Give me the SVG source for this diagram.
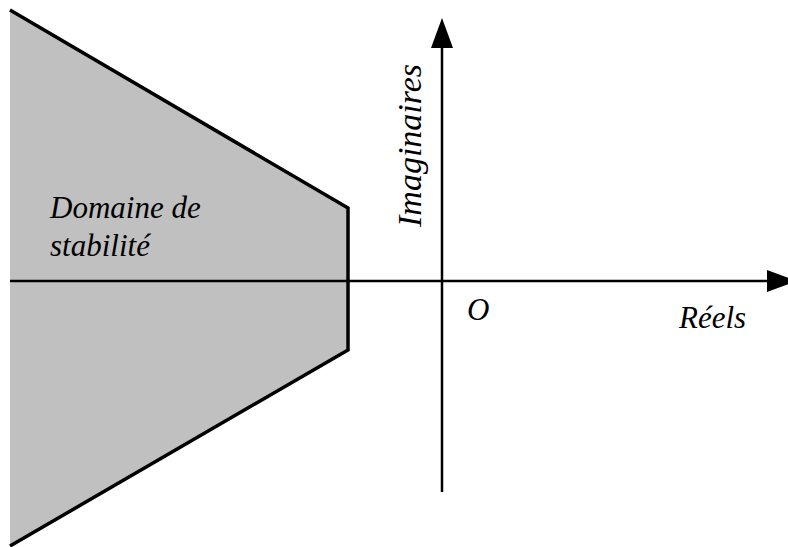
<svg xmlns="http://www.w3.org/2000/svg" width="788" height="547" viewBox="0 0 788 547">
<defs>
<marker id="ah" markerUnits="userSpaceOnUse" markerWidth="30" markerHeight="22" refX="0" refY="11" orient="auto" viewBox="0 0 30 22">
<path d="M0,0 L30,11 L0,22 Z" fill="#000"/>
</marker>
</defs>
<rect width="788" height="547" fill="#fff"/>
<g id="domaine">
<path d="M10,10 L348,208 L348,350 L10,546 Z" fill="#c0c0c0" stroke="none"/>
<path d="M10,10 L348,208 L348,350 L10,546" fill="none" stroke="#000" stroke-width="3.5"/>
<g font-family="Liberation Serif, Times New Roman, serif" font-style="italic" fill="#000">
<text x="50" y="218" font-size="31">Domaine de</text>
<text x="50" y="256" font-size="31">stabilité</text>
</g>
</g>
<g id="axes" stroke="#000" stroke-width="2.5" fill="none">
<line x1="10" y1="281" x2="767" y2="281" marker-end="url(#ah)"/>
<line x1="442" y1="492" x2="442" y2="48" marker-end="url(#ah)"/>
</g>
<g id="labels" font-family="Liberation Serif, Times New Roman, serif" font-style="italic" fill="#000">
<text x="421" y="227" font-size="34" transform="rotate(-90 421 227)">Imaginaires</text>
<text x="467" y="320" font-size="31">O</text>
<text x="679" y="328" font-size="31">Réels</text>
</g>
</svg>
